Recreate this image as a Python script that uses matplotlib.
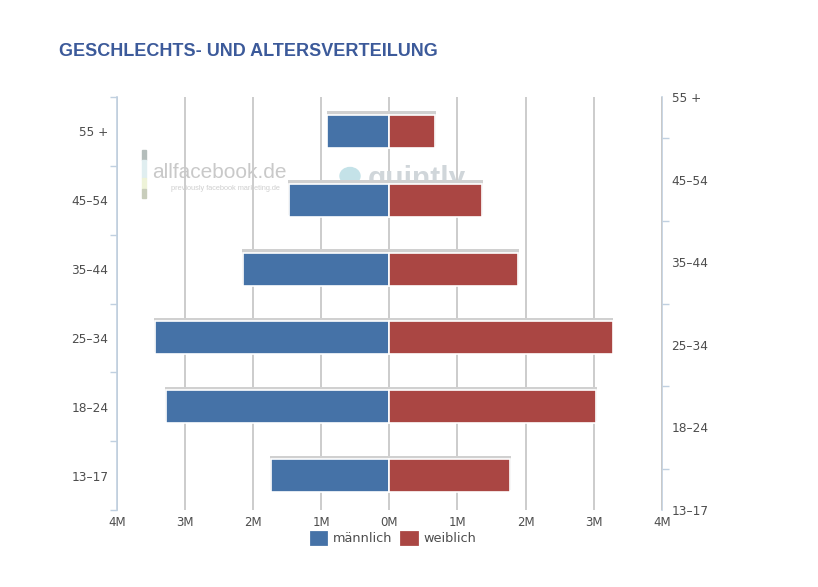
"""Geschlechts- und Altersverteilung as a butterfly bar chart."""

import matplotlib
matplotlib.use("Agg")
import matplotlib.pyplot as plt
from matplotlib.patches import Ellipse, Patch, Rectangle
from matplotlib.ticker import FuncFormatter, MultipleLocator

age_groups = ["13–17", "18–24", "25–34", "35–44", "45–54", "55 +"]
male = [1.74, 3.28, 3.44, 2.15, 1.47, 0.91]
female = [1.77, 3.04, 3.28, 1.89, 1.36, 0.67]

W, H = 818, 587
BLUE = "#4572A7"
RED = "#AA4643"
AXIS = "#C0D0E0"
GRID = "#C8C8C8"
TEXT = "#4D4D4D"

plt.rcParams["font.family"] = ["DejaVu Sans"]

fig = plt.figure(figsize=(W / 100, H / 100), dpi=100)
left, right, top, bottom = 116.8, 661.8, 97, 510
ax = fig.add_axes([left / W, 1 - bottom / H, (right - left) / W, (bottom - top) / H])


def px(x, y):
    """Figure fraction for a pixel position measured from the top left."""
    return x / W, 1 - y / H


positions = list(range(len(age_groups)))

# light shadow sitting just above each bar
ax.barh([p + 0.04 for p in positions], [-v - 0.01 for v in male], height=0.5, color="#D0D0D0", zorder=3)
ax.barh([p + 0.04 for p in positions], [v + 0.01 for v in female], height=0.5, color="#D0D0D0", zorder=3)
ax.barh(positions, [-v for v in male], height=0.48, color=BLUE, edgecolor="white", linewidth=1.2, zorder=4)
ax.barh(positions, female, height=0.48, color=RED, edgecolor="white", linewidth=1.2, zorder=4)

ax.set_xlim(-4, 4)
ax.set_ylim(-0.5, 5.5)
ax.xaxis.set_major_locator(MultipleLocator(1))
ax.xaxis.set_major_formatter(FuncFormatter(lambda v, _: f"{abs(v):.0f}M"))
ax.grid(axis="x", color=GRID, linewidth=1.3, zorder=1)
ax.set_axisbelow(True)
ax.tick_params(axis="x", length=0, pad=4, labelsize=8.5, labelcolor=TEXT)

ax.set_yticks(positions)
ax.set_yticklabels(age_groups)
ax.set_yticks([p - 0.5 for p in positions] + [5.5], minor=True)
ax.tick_params(axis="y", which="major", length=0, pad=6, labelsize=8.7, labelcolor=TEXT)
ax.tick_params(axis="y", which="minor", length=5, width=1, color=AXIS)

for side in ["top", "right", "bottom"]:
    ax.spines[side].set_visible(False)
ax.spines["left"].set_color(AXIS)
ax.spines["left"].set_linewidth(1.2)

# second category axis on the right, labels sit on the ends and not in the bands
ax2 = ax.twinx()
ax2.set_ylim(0, 5)
ax2.set_yticks(positions)
ax2.set_yticklabels(age_groups)
ax2.set_yticks([p + 0.5 for p in positions[:-1]], minor=True)
ax2.tick_params(axis="y", which="major", length=0, pad=7, labelsize=8.7, labelcolor=TEXT)
ax2.tick_params(axis="y", which="minor", length=5, width=1, color=AXIS)
for side in ["top", "left", "bottom"]:
    ax2.spines[side].set_visible(False)
ax2.spines["right"].set_color(AXIS)
ax2.spines["right"].set_linewidth(1.2)
ax.set_zorder(ax2.get_zorder() + 1)
ax.patch.set_visible(False)

# watermarks behind the bars
ax.text(*px(152, 172), "allfacebook.de", transform=fig.transFigure, fontsize=15,
        color="#C9C9C9", va="center", ha="left", family="Liberation Sans", zorder=2)
ax.text(*px(171, 189), "previously facebook marketing.de", transform=fig.transFigure, fontsize=5.3,
        color="#CFCFCF", va="center", ha="left", family="Liberation Sans", zorder=2)
ax.text(*px(368, 179), "quintly", transform=fig.transFigure, fontsize=21.5,
        color="#D0D6DA", va="center", ha="left", family="Liberation Sans", weight="bold", zorder=2)
cx, cy = px(350, 176)
ax.add_patch(Ellipse((cx, cy), 20 / W, 17 / H, transform=fig.transFigure, color="#C4E2E8", zorder=2))
for y0, y1, shade in [(150, 160, "#B4BDBB"), (160, 178, "#E0EEF0"), (178, 189, "#EEF3D8"), (189, 198, "#C8CDBB")]:
    x0, yb = px(142, y1)
    ax.add_patch(Rectangle((x0, yb), 4 / W, (y1 - y0) / H, transform=fig.transFigure, color=shade, zorder=2))

fig.text(*px(59, 52), "GESCHLECHTS- UND ALTERSVERTEILUNG", fontsize=13.0, weight="bold",
         color="#3C5A9A", family="Liberation Sans", va="center", ha="left")

handles = [
    Patch(facecolor=BLUE, edgecolor=BLUE, linewidth=2, joinstyle="round", label="männlich"),
    Patch(facecolor=RED, edgecolor=RED, linewidth=2, joinstyle="round", label="weiblich"),
]
fig.legend(handles=handles, ncol=2, loc="center", bbox_to_anchor=px(393.5, 538.5), frameon=False,
           fontsize=9.3, labelcolor=TEXT, handlelength=1.2, handleheight=1.05,
           handletextpad=0.5, columnspacing=0.7, borderpad=0)

fig.savefig("out.png", dpi=100)
